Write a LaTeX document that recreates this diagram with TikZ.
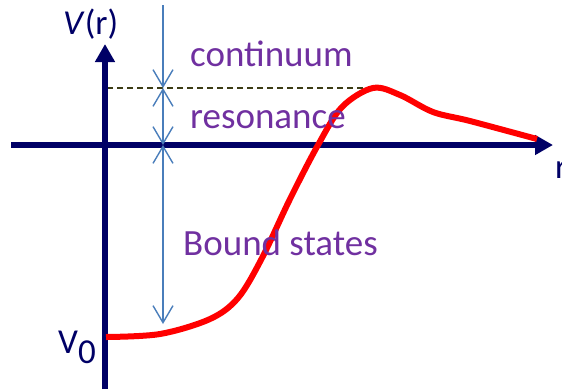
\documentclass[tikz,border=0pt]{standalone}
\usepackage{fontspec}
\setmainfont{Carlito}
\usetikzlibrary{arrows.meta}
\definecolor{axisnavy}{RGB}{0,0,102}
\definecolor{labelpurple}{RGB}{112,48,160}
\definecolor{arrowblue}{RGB}{74,126,187}
\definecolor{dasholive}{RGB}{60,60,20}
\tikzset{
  axis/.style={draw=axisnavy, line width=5.5pt, -{Triangle[length=18pt,width=19pt]}},
  gap/.style={draw=arrowblue, line width=1.4pt},
  barb/.tip={Straight Barb[length=17pt,width=20pt,line width=1.4pt]},
  purpletext/.style={text=labelpurple, font=\fontsize{37}{42}\selectfont, inner sep=0pt},
  navytext/.style={text=axisnavy, font=\fontsize{35}{40}\selectfont, inner sep=0pt},
  potential/.style={draw=red, line width=6pt, line cap=butt},
}
\begin{document}
\begin{tikzpicture}[x=1pt,y=-1pt]
\useasboundingbox (0,0) rectangle (562,389);
% coordinates
\coordinate (vbot) at (105,389);
\coordinate (vtop) at (105,44);
\coordinate (hleft) at (11,145);
\coordinate (hright) at (553,145);
\coordinate (dstart) at (107,88);
\coordinate (dend) at (368,88);
\coordinate (atop) at (163,5);
\coordinate (alev) at (163,88);
\coordinate (azero) at (163,145);
\coordinate (abot) at (163,324);
% dashed resonance level
\draw[dasholive, line width=1.4pt, dash pattern=on 6pt off 4pt] (dstart) -- (dend);
% axes
\draw[axis] (vbot) -- (vtop);
\draw[axis] (hleft) -- (hright);
% blue gap arrows
\draw[gap, -{barb}] (atop) -- (alev);
\draw[gap, {barb}-{barb}] (alev) -- (azero);
\draw[gap, {barb}-{barb}] (azero) -- (abot);
% potential curve
\draw[potential] plot[smooth, tension=0.55] coordinates {
  (106,337) (160,334) (210,319) (238,298) (262,258) (290,199) (318,145)
  (342,107) (373,88) (400,95) (433,112) (470,121) (537,139)};
% labels
\node[purpletext, anchor=base west] (cont) at (190,66) {continuum};
\node[purpletext, anchor=base west] (reso) at (190,128) {resonance};
\node[purpletext, anchor=base west] (bound) at (183,255) {Bound states};
\node[navytext, anchor=base west] (vr) at (63,34) {\textit{V}(r)};
\node[navytext, anchor=base west] (vzero) at (58,353) {V\raisebox{-10pt}{0}};
\node[navytext, anchor=base west] (rlab) at (555,178) {r};
\end{tikzpicture}
\end{document}
